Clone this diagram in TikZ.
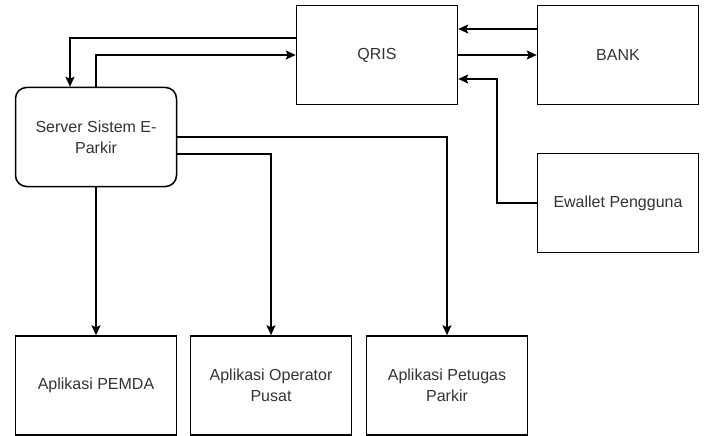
\documentclass[tikz,border=0pt]{standalone}
\usepackage{fontspec}
\setmainfont{Liberation Sans}
\usetikzlibrary{arrows.meta}

\begin{document}
\begin{tikzpicture}[x=1pt,y=-1pt,
  box/.style={draw,line width=1.5pt,minimum width=161pt,minimum height=99pt,
    inner sep=0pt,align=center,text=black!80,font=\fontsize{16}{21}\selectfont},
  rbox/.style={box,rounded corners=11pt},
  link/.style={line width=1.5pt,-{Stealth[length=10pt,width=9pt,inset=2pt]}}]
\useasboundingbox (0,0) rectangle (705,436);
% top row
\node[box] (qris) at (377,55) {QRIS};
\node[box] (bank) at (618,55) {BANK};
\node[box] (ewallet) at (618,203) {Ewallet Pengguna};
\node[rbox] (server) at (96,137) {Server Sistem E-\\Parkir};
% bottom row
\node[box] (pemda) at (96,385.5) {Aplikasi PEMDA};
\node[box] (operator) at (271,385.5) {Aplikasi Operator\\Pusat};
\node[box] (petugas) at (447,385.5) {Aplikasi Petugas\\Parkir};

\draw[link] ([yshift=17pt]qris.west) -| ([xshift=-26pt]server.north);
\draw[link] (server.north) |- (qris.west);
\draw[link] ([yshift=26pt]bank.west) -- ([yshift=26pt]qris.east);
\draw[link] (qris.east) -- (bank.west);
\draw[link] (ewallet.west) -- ++(-40,0) |- ([yshift=-24pt]qris.east);
\draw[link] (server.east) -| (petugas.north);
\draw[link] ([yshift=-17pt]server.east) -| (operator.north);
\draw[link] (server.south) -- (pemda.north);
\end{tikzpicture}
\end{document}
